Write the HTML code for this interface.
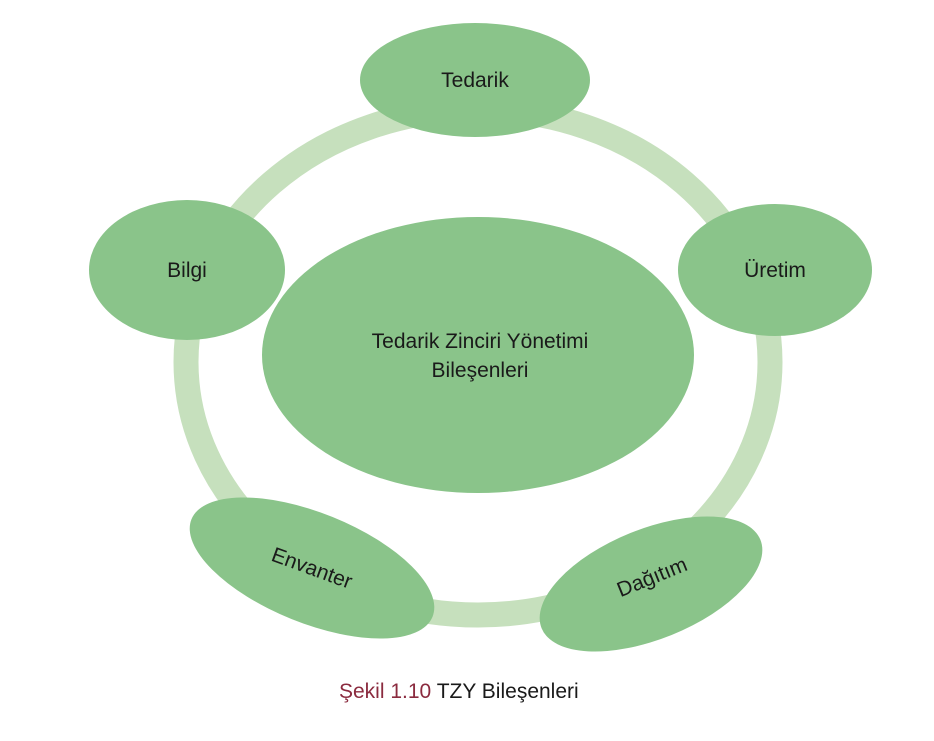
<!DOCTYPE html>
<html><head><meta charset="utf-8"><style>
html,body{margin:0;padding:0;background:#fff;}
</style></head><body>
<svg width="934" height="736" viewBox="0 0 934 736" xmlns="http://www.w3.org/2000/svg" font-family="Liberation Sans, sans-serif">
<ellipse cx="478" cy="362" rx="292" ry="253" fill="none" stroke="#c6e0bd" stroke-width="25"/>
<g fill="#8ac48a">
<ellipse cx="475" cy="80" rx="115" ry="57"/>
<ellipse cx="775" cy="270" rx="97" ry="66"/>
<ellipse cx="187" cy="270" rx="98" ry="70"/>
<ellipse cx="478" cy="355" rx="216" ry="138"/>
<ellipse cx="312" cy="568" rx="130" ry="55" transform="rotate(22 312 568)"/>
<ellipse cx="651" cy="584" rx="118" ry="55" transform="rotate(-22 651 584)"/>
</g>
<g fill="#1a1a1a" font-size="21" text-anchor="middle">
<text x="475" y="87">Tedarik</text>
<text x="775" y="277">Üretim</text>
<text x="187" y="277">Bilgi</text>
<text x="480" y="348">Tedarik Zinciri Yönetimi</text>
<text x="480" y="377">Bileşenleri</text>
<text x="312" y="575" transform="rotate(20 312 568)">Envanter</text>
<text x="652" y="584" transform="rotate(-22 652 577)">Dağıtım</text>
</g>
<text x="339" y="698" font-size="21" fill="#8b2b3f">Şekil 1.10 <tspan fill="#1a1a1a">TZY Bileşenleri</tspan></text>
</svg>
</body></html>
